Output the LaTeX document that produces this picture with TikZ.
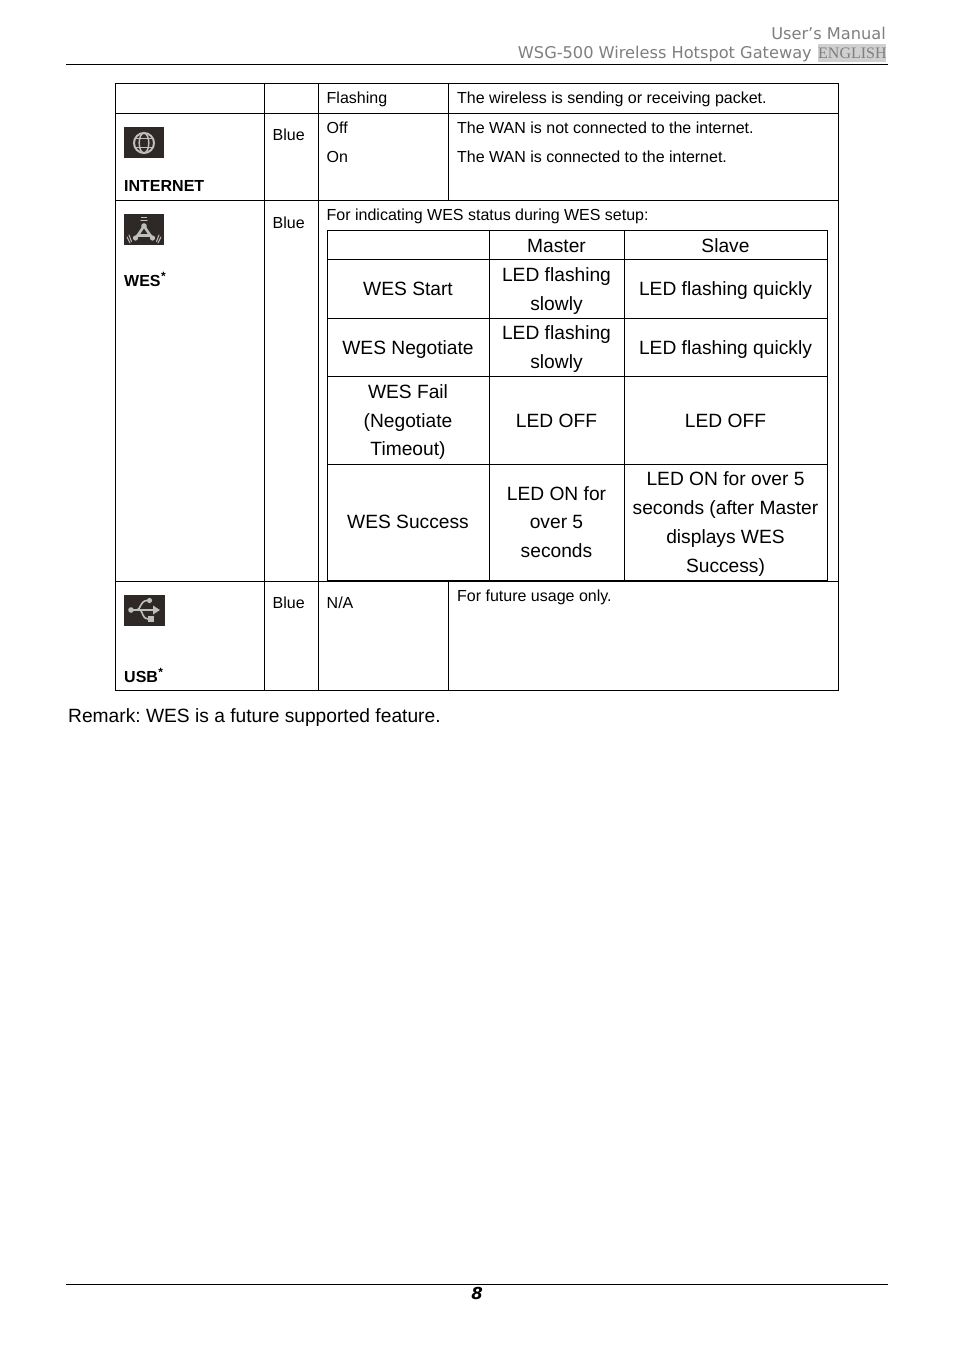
\documentclass[tikz,border=0pt]{standalone}
\usepackage{fontspec}
\setmainfont{Liberation Sans}
\newfontfamily\hdrfont{DejaVu Sans}
\newfontfamily\serfont{Liberation Serif}
\definecolor{hdrgray}{HTML}{7F7F7F}
\definecolor{iconbg}{HTML}{2E2826}
\definecolor{hl}{HTML}{D0D0D0}
\definecolor{iconfg}{HTML}{BEBEBE}
\tikzset{
 txt/.style={anchor=base west,inner sep=0pt,font=\fontsize{16}{16}\selectfont},
 big/.style={anchor=base,inner sep=0pt,font=\fontsize{19.2}{19.2}\selectfont},
 rule/.style={line width=1pt,black},
 bold/.style={txt,font=\fontsize{16}{16}\selectfont\bfseries},
 supr/.style={anchor=base west,inner sep=0pt,font=\fontsize{12}{12}\selectfont\bfseries},
 hdr/.style={anchor=base east,inner sep=0pt,text=hdrgray,font=\hdrfont\fontsize{16.2}{16.2}\selectfont},
 icon/.style={fill=iconbg,draw=none},
 glyph/.style={draw=iconfg,line width=2pt,line cap=round}
}
\begin{document}
\begin{tikzpicture}[x=1pt,y=-1pt]
\frenchspacing
\useasboundingbox (0,0) rectangle (954,1350);
\fill[white] (0,0) rectangle (954,1350);
% header
\node[hdr] (h1) at (886,39) {User’s Manual};
\fill[hl] (818,44) rectangle (886,62);
\node[hdr] (h2) at (812,58) {WSG-500 Wireless Hotspot Gateway};
\node[anchor=base west,inner sep=0pt,text=hdrgray,font=\serfont\fontsize{16}{16}\selectfont] (h3) at (818,58) {ENGLISH};
\draw[rule] (66,64.5) -- (888,64.5);
% footer
\draw[rule] (66,1284.5) -- (888,1284.5);
\node[anchor=base,inner sep=0pt,font=\hdrfont\fontsize{16.5}{16.5}\selectfont\bfseries\itshape] (pg) at (477,1299) {8};
% outer table
\draw[rule] (115.5,83.5) rectangle (838.5,690.5);
\draw[rule] (115.5,113.5) -- (838.5,113.5);
\draw[rule] (115.5,200.5) -- (838.5,200.5);
\draw[rule] (115.5,581.5) -- (838.5,581.5);
\draw[rule] (264.5,83.5) -- (264.5,690.5);
\draw[rule] (318.5,83.5) -- (318.5,690.5);
\draw[rule] (448.5,83.5) -- (448.5,200.5);
\draw[rule] (448.5,581.5) -- (448.5,690.5);
% inner table
\draw[rule] (327.5,230.5) rectangle (827.5,580.5);
\draw[rule] (327.5,259.5) -- (827.5,259.5);
\draw[rule] (327.5,318.5) -- (827.5,318.5);
\draw[rule] (327.5,376.5) -- (827.5,376.5);
\draw[rule] (327.5,464.5) -- (827.5,464.5);
\draw[rule] (489.5,230.5) -- (489.5,580.5);
\draw[rule] (624.5,230.5) -- (624.5,580.5);
% outer texts
\node[txt] (t1) at (326.5,103) {Flashing};
\node[txt] (t2) at (457,103) {The wireless is sending or receiving packet.};
\node[txt] (t3) at (326.5,133) {Off};
\node[txt] (t4) at (326.5,162) {On};
\node[txt] (t5) at (457,133) {The WAN is not connected to the internet.};
\node[txt] (t6) at (457,162) {The WAN is connected to the internet.};
\node[txt] (b1) at (272.5,140) {Blue};
\node[txt] (b2) at (272.5,228) {Blue};
\node[txt] (b3) at (272.5,608) {Blue};
\node[txt] (t7) at (326.5,220) {For indicating WES status during WES setup:};
\node[txt] (t8) at (326.5,608) {N/A};
\node[txt] (t9) at (457,601) {For future usage only.};
\node[bold] (l1) at (124,191) {INTERNET};
\node[bold] (l2) at (124,286) {WES};
\node[supr] at (l2.base east) [yshift=6pt] (s2) {*};
\node[bold] (l3) at (124,682) {USB};
\node[supr] at (l3.base east) [yshift=6pt] (s3) {*};
% inner texts
\node[big] (c1) at (556.5,252) {Master};
\node[big] (c2) at (725.5,252) {Slave};
\node[big] (a1) at (408,295) {WES Start};
\node[big] (a2) at (408,354) {WES Negotiate};
\node[big] (a3) at (408,398) {WES Fail};
\node[big] (a4) at (408,427) {(Negotiate};
\node[big] (a5) at (408,455) {Timeout)};
\node[big] (a6) at (408,528) {WES Success};
\node[big] (m1) at (556.5,281) {LED flashing};
\node[big] (m2) at (556.5,310) {slowly};
\node[big] (m3) at (556.5,339) {LED flashing};
\node[big] (m4) at (556.5,368) {slowly};
\node[big] (m5) at (556.5,427) {LED OFF};
\node[big] (m6) at (556.5,500) {LED ON for};
\node[big] (m7) at (556.5,528) {over 5};
\node[big] (m8) at (556.5,557) {seconds};
\node[big] (r1) at (725.5,295) {LED flashing quickly};
\node[big] (r2) at (725.5,354) {LED flashing quickly};
\node[big] (r3) at (725.5,427) {LED OFF};
\node[big] (r4) at (725.5,485) {LED ON for over 5};
\node[big] (r5) at (725.5,514) {seconds (after Master};
\node[big] (r6) at (725.5,543) {displays WES};
\node[big] (r7) at (725.5,572) {Success)};
\node[anchor=base west,inner sep=0pt,font=\fontsize{19.2}{19.2}\selectfont] (rem) at (68,722) {Remark: WES is a future supported feature.};
% internet icon
\fill[icon] (124,127) rectangle (164,158);
\draw[glyph] (144,143) circle (10);
\draw[glyph,line width=1.5pt] (144,143) ellipse (4.8 and 10);
\draw[glyph,line width=1.5pt] (135,138.5) -- (153,138.5) (135,147.5) -- (153,147.5);
% wes icon
\fill[icon] (124,214) rectangle (164,245);
\draw[glyph,line width=2.6pt] (144,226) -- (136,238) (144,226) -- (152,238) (137,235.5) -- (151,235.5);
\fill[iconfg] (144,226) circle (2.8) (135.5,238) circle (2.6) (152.5,238) circle (2.6);
\draw[glyph,line width=1.2pt] (141,220.5) -- (147,220.5) (141.5,217.5) -- (146.5,217.5);
\draw[glyph,line width=1pt] (129,235) -- (131.5,241.5) (127,237) -- (130,243);
\draw[glyph,line width=1pt] (159,235) -- (156.5,241.5) (161,237) -- (158,243);
% usb icon
\fill[icon] (124,595) rectangle (165,626);
\draw[glyph,line width=1.8pt] (131,610) -- (155,610);
\fill[iconfg] (131,610) circle (2.8);
\fill[iconfg] (160,610) -- (153,605.5) -- (153,614.5) -- cycle;
\draw[glyph,line width=1.6pt] (137,610) .. controls (141,609) and (140,601) .. (147,600.5);
\draw[glyph,line width=1.6pt] (140,610) .. controls (143,611) and (142,619) .. (148,619);
\fill[iconfg] (149.5,600.5) circle (2.6);
\fill[iconfg] (148,616) rectangle (153.5,622);
\end{tikzpicture}
\end{document}
